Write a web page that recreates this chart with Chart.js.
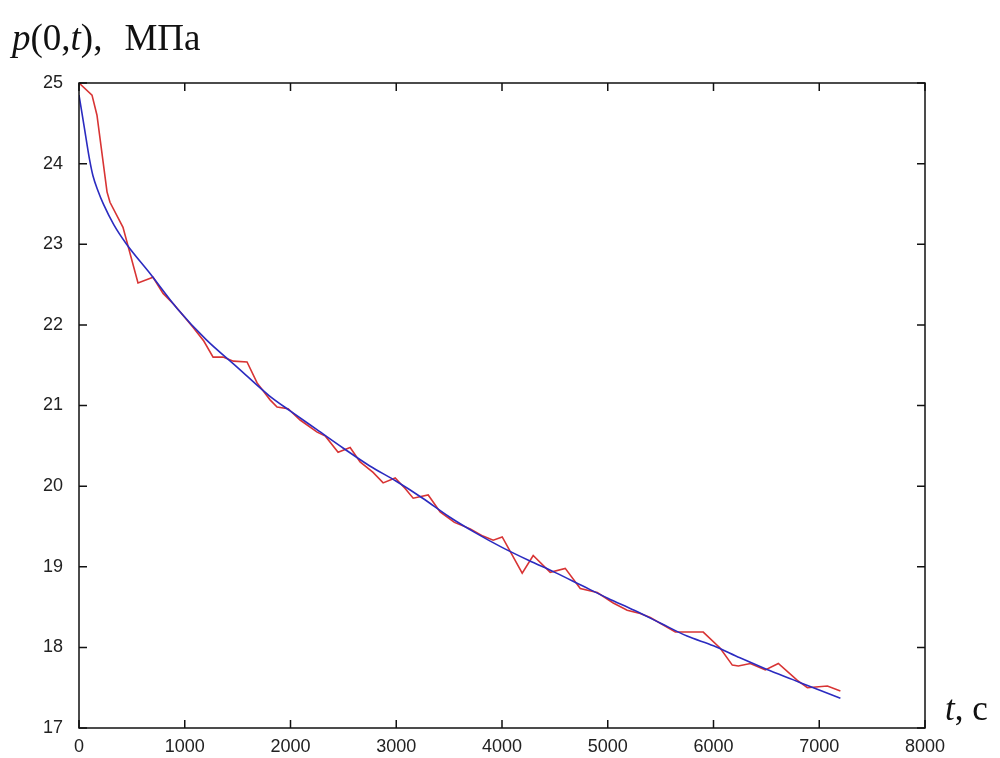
<!DOCTYPE html>
<html>
<head>
<meta charset="utf-8">
<script src="https://cdn.jsdelivr.net/npm/chart.js@4.4.1/dist/chart.umd.min.js"></script>
<style>
  body { margin: 0; background: #fff; }
  #wrap { position: relative; width: 1000px; height: 758px; }
  #chart { position: absolute; left: 0; top: 0; }
  .lbl { position: absolute; font-family: "Liberation Serif", "Times New Roman", serif; color: #111; white-space: pre; line-height: 1; }
</style>
</head>
<body>
<div id="wrap">
  <canvas id="chart" width="1000" height="758"></canvas>
  <div class="lbl" style="left:12px; top:19px; font-size:37px;"><i>p</i>(0,<i>t</i>),<span style="margin-left:22px">МПа</span></div>
  <div class="lbl" style="left:945px; top:691px; font-size:35px;"><i>t</i>, c</div>
</div>
<script>
// measured pressure, s / MPa
const measTime = [0, 123, 170, 265, 293, 416, 558, 700, 795, 900, 1078, 1180, 1268, 1362, 1460, 1589,
  1684, 1807, 1873, 1977, 2091, 2252, 2330, 2450, 2564, 2658, 2781, 2876, 2990, 3084, 3160, 3302,
  3415, 3550, 3700, 3820, 3917, 4002, 4191, 4295, 4456, 4598, 4740, 4901, 5052, 5184, 5307, 5402,
  5639, 5733, 5903, 6064, 6178, 6235, 6348, 6490, 6613, 6793, 6888, 7077, 7200];
const measPressure = [25.0, 24.85, 24.6, 23.65, 23.52, 23.21, 22.52, 22.59, 22.39, 22.25, 21.97, 21.8, 21.6, 21.6, 21.55, 21.54,
  21.28, 21.07, 20.98, 20.96, 20.82, 20.67, 20.62, 20.42, 20.48, 20.3, 20.17, 20.04, 20.1, 19.97, 19.85, 19.89,
  19.68, 19.55, 19.47, 19.38, 19.33, 19.37, 18.92, 19.14, 18.93, 18.98, 18.73, 18.68, 18.55, 18.46, 18.42, 18.37,
  18.19, 18.19, 18.19, 17.99, 17.78, 17.77, 17.8, 17.72, 17.8, 17.59, 17.5, 17.52, 17.46];

// model curve
const modelTime = [0, 50, 100, 132, 180, 230, 330, 450, 670, 930, 1200, 1500, 1800, 2000, 2250, 2500, 2750, 3000, 3250,
  3500, 3750, 4000, 4250, 4500, 4750, 5000, 5250, 5500, 5750, 6000, 6250, 6500, 6750, 7000, 7200];
const modelPressure = [24.85, 24.45, 24.05, 23.85, 23.66, 23.5, 23.24, 23.0, 22.64, 22.2, 21.82, 21.47, 21.12, 20.93, 20.7, 20.47, 20.25, 20.06, 19.85,
  19.62, 19.42, 19.24, 19.08, 18.93, 18.77, 18.61, 18.46, 18.3, 18.14, 18.02, 17.87, 17.73, 17.6, 17.47, 17.37];

const xTicks = [0, 1000, 2000, 3000, 4000, 5000, 6000, 7000, 8000];
const yTicks = [17, 18, 19, 20, 21, 22, 23, 24, 25];

const toPoints = (xs, ys) => xs.map((x, i) => ({ x, y: ys[i] }));

// box around the plot with inward ticks on all four sides
const boxTicks = {
  id: 'boxTicks',
  afterDraw(chart) {
    const { ctx, chartArea: a, scales } = chart;
    const len = 8;
    ctx.save();
    ctx.strokeStyle = '#111';
    ctx.lineWidth = 1.5;
    ctx.strokeRect(a.left, a.top, a.right - a.left, a.bottom - a.top);
    ctx.beginPath();
    xTicks.forEach(v => {
      const px = scales.x.getPixelForValue(v);
      ctx.moveTo(px, a.bottom); ctx.lineTo(px, a.bottom - len);
      ctx.moveTo(px, a.top); ctx.lineTo(px, a.top + len);
    });
    yTicks.forEach(v => {
      const py = scales.y.getPixelForValue(v);
      ctx.moveTo(a.left, py); ctx.lineTo(a.left + len, py);
      ctx.moveTo(a.right, py); ctx.lineTo(a.right - len, py);
    });
    ctx.stroke();
    ctx.restore();
  }
};

const tickFont = { family: '"Liberation Sans", Arial, sans-serif', size: 18 };

new Chart(document.getElementById('chart'), {
  type: 'line',
  data: {
    datasets: [
      {
        label: 'model',
        data: toPoints(modelTime, modelPressure),
        borderColor: '#2b2bc0',
        borderWidth: 1.6,
        pointRadius: 0,
        cubicInterpolationMode: 'monotone',
        fill: false,
      },
      {
        label: 'measured',
        data: toPoints(measTime, measPressure),
        borderColor: '#d83434',
        borderWidth: 1.6,
        pointRadius: 0,
        tension: 0,
        fill: false,
        order: 1,
      }
    ]
  },
  options: {
    responsive: false,
    animation: false,
    layout: { padding: { left: 0, right: 75, top: 83, bottom: 0 } },
    scales: {
      x: {
        type: 'linear',
        min: 0,
        max: 8000,
        afterBuildTicks: s => { s.ticks = xTicks.map(v => ({ value: v })); },
        afterFit: s => { s.height = 30; },
        grid: { display: false, drawTicks: false },
        border: { display: false },
        ticks: { color: '#222', font: tickFont, padding: 8, maxRotation: 0, autoSkip: false, callback: v => String(v) }
      },
      y: {
        min: 17,
        max: 25,
        afterBuildTicks: s => { s.ticks = yTicks.map(v => ({ value: v })); },
        afterFit: s => { s.width = 79; },
        grid: { display: false, drawTicks: false },
        border: { display: false },
        ticks: { color: '#222', font: tickFont, padding: 16, autoSkip: false, callback: v => String(v) }
      }
    },
    plugins: {
      legend: { display: false },
      tooltip: { enabled: false }
    }
  },
  plugins: [boxTicks]
});
</script>
</body>
</html>
